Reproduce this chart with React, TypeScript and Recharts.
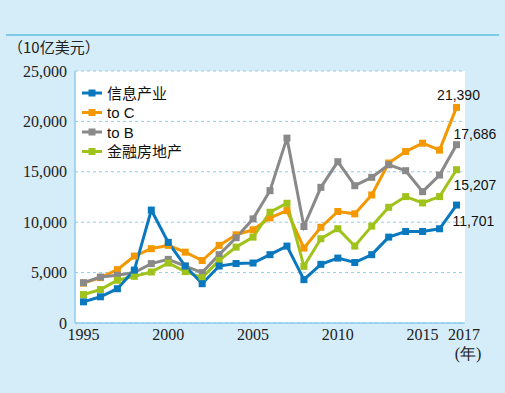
import React from "react";
import { LineChart, Line, XAxis, YAxis, CartesianGrid, Legend, LabelList } from "recharts";

const years = [1995, 1996, 1997, 1998, 1999, 2000, 2001, 2002, 2003, 2004, 2005, 2006, 2007, 2008, 2009, 2010, 2011, 2012, 2013, 2014, 2015, 2016, 2017];
const infoIndustry = [2100, 2600, 3400, 5250, 11200, 8000, 5650, 3900, 5650, 5900, 5950, 6780, 7630, 4300, 5820, 6440, 6000, 6780, 8520, 9080, 9080, 9350, 11701];
const toC = [3950, 4500, 5290, 6640, 7370, 7700, 7030, 6200, 7700, 8750, 9250, 10430, 11150, 7430, 9500, 11060, 10830, 12700, 15870, 17010, 17840, 17150, 21390];
const toB = [4000, 4560, 4730, 5000, 5890, 6310, 5650, 5000, 6780, 8460, 10330, 13130, 18340, 9570, 13460, 16000, 13620, 14450, 15700, 15110, 13030, 14680, 17686];
const finance = [2820, 3320, 4240, 4630, 5060, 5950, 5100, 4500, 6210, 7530, 8520, 10990, 11880, 5620, 8360, 9350, 7630, 9610, 11480, 12540, 11910, 12540, 15207];

const yTicks = [0, 5000, 10000, 15000, 20000, 25000];
const xLabelTicks = [1995, 2000, 2005, 2010, 2015, 2017];
const boundaryTicks = [1994.5, 1995.5, 1996.5, 1997.5, 1998.5, 1999.5, 2000.5, 2001.5, 2002.5, 2003.5, 2004.5, 2005.5, 2006.5, 2007.5, 2008.5, 2009.5, 2010.5, 2011.5, 2012.5, 2013.5, 2014.5, 2015.5, 2016.5, 2017.5];
const majorBoundaries = [2000.5, 2005.5, 2010.5, 2015.5];

const unitLabel = "（10亿美元）";
const yearUnit = "(年)";

const series = [
  { key: "info", name: "信息产业", color: "#0a78be", values: infoIndustry, lab: { dx: -4, dy: 21, anchor: "start" } },
  { key: "toC", name: "to C", color: "#f39800", values: toC, lab: { dx: 2, dy: -7, anchor: "middle" } },
  { key: "toB", name: "to B", color: "#898989", values: toB, lab: { dx: -3, dy: -6, anchor: "start" } },
  { key: "fin", name: "金融房地产", color: "#9fc31b", values: finance, lab: { dx: -3, dy: 20, anchor: "start" } },
];
const drawOrder = ["toC", "toB", "fin", "info"];

const data = years.map((y, i) => {
  const row: any = { year: y };
  series.forEach((s) => (row[s.key] = s.values[i]));
  return row;
});

const AXIS_BLUE = "#8fcdec";
const SANS = "'Liberation Sans', Arial, 'Noto Sans CJK SC', sans-serif";
const SERIF = "'Liberation Serif', 'DejaVu Serif', serif";

const squareDot = (color: string) => (props: any) => {
  const { cx, cy, index } = props;
  if (cx == null || cy == null) return <g key={index} />;
  return <rect key={index} x={cx - 3.5} y={cy - 3.5} width={7} height={7} fill={color} />;
};

const YearTick = (props: any) => {
  const { x, y, payload } = props;
  const v = payload.value;
  const shift = v === 2017 ? 7.5 : 0;
  return (
    <g>
      <text x={x + shift} y={y + 17} textAnchor="middle" style={{ fontFamily: SERIF, fontSize: 16 }} fill="#222">
        {v}
      </text>
      {v === 2017 && (
        <text x={x + 11.5} y={y + 36} textAnchor="middle" style={{ fontFamily: SERIF, fontSize: 16 }} fill="#222">
          {yearUnit}
        </text>
      )}
    </g>
  );
};

const ValueTick = (props: any) => {
  const { x, y, payload } = props;
  return (
    <text x={x} y={y + 5.5} textAnchor="end" style={{ fontFamily: SERIF, fontSize: 16 }} fill="#222">
      {Number(payload.value).toLocaleString("en-US")}
    </text>
  );
};

const BoundaryTick = (props: any) => {
  const { x, y, payload } = props;
  const len = majorBoundaries.includes(payload.value) ? 10 : 5;
  return <line x1={x} x2={x} y1={y} y2={y - len} stroke={AXIS_BLUE} strokeWidth={1.2} />;
};

const LegendContent = () => (
  <svg width={130} height={80} style={{ display: "block" }}>
    {series.map((s, i) => {
      const cy = 10 + i * 19.5;
      return (
        <g key={s.key}>
          <line x1={2} x2={22} y1={cy} y2={cy} stroke={s.color} strokeWidth={3} />
          <rect x={8.5} y={cy - 3.5} width={7} height={7} fill={s.color} />
          <text x={27} y={cy + 5.5} style={{ fontFamily: SANS, fontSize: 15 }} fill="#111">
            {s.name}
          </text>
        </g>
      );
    })}
  </svg>
);

const endLabel = (s: any) => (props: any) => {
  const { x, y, index } = props;
  if (index !== years.length - 1) return null;
  return (
    <text x={x + s.lab.dx} y={y + s.lab.dy} textAnchor={s.lab.anchor} style={{ fontFamily: SANS, fontSize: 14 }} fill="#111">
      {s.values[index].toLocaleString("en-US")}
    </text>
  );
};

export default function App() {
  return (
    <div style={{ position: "absolute", left: 0, top: 0, width: 505, height: 393, background: "#d5ecf9", overflow: "hidden" }}>
      <div style={{ position: "absolute", left: 6, top: 34, width: 493, height: 2, background: "#7ccbe8" }} />
      <div style={{ position: "absolute", left: 8, top: 37, fontFamily: "'Noto Sans CJK SC', sans-serif", fontSize: 15, lineHeight: "20px", color: "#222" }}>
        {unitLabel}
      </div>
      <LineChart width={505} height={393} data={data} margin={{ top: 71, right: 40, bottom: 40, left: 0 }}>
        <CartesianGrid vertical={false} horizontal={true} stroke={AXIS_BLUE} strokeDasharray="3 3" fill="#ffffff" fillOpacity={1} />
        <XAxis
          xAxisId="marks"
          dataKey="year"
          type="number"
          domain={[1994.5, 2017.5]}
          ticks={boundaryTicks}
          interval={0}
          height={0}
          tickSize={0}
          tickMargin={0}
          tickLine={false}
          axisLine={false}
          tick={<BoundaryTick />}
        />
        <XAxis
          dataKey="year"
          type="number"
          domain={[1994.5, 2017.5]}
          ticks={xLabelTicks}
          interval={0}
          height={30}
          tickSize={0}
          tickMargin={0}
          tickLine={false}
          axisLine={{ stroke: AXIS_BLUE, strokeWidth: 1.5 }}
          tick={<YearTick />}
        />
        <YAxis
          domain={[0, 25000]}
          ticks={yTicks}
          interval={0}
          width={75}
          tickLine={false}
          axisLine={{ stroke: AXIS_BLUE, strokeWidth: 1.5 }}
          tick={<ValueTick />}
        />
        <Legend
          layout="horizontal"
          align="center"
          verticalAlign="middle"
          content={<LegendContent />}
          wrapperStyle={{ position: "absolute", left: 80, top: 83, width: 130, height: 80 }}
        />
        {drawOrder.map((k) => {
          const s: any = series.find((x) => x.key === k);
          return (
            <Line
              key={s.key}
              dataKey={s.key}
              name={s.name}
              stroke={s.color}
              strokeWidth={3}
              dot={squareDot(s.color)}
              activeDot={false}
              isAnimationActive={false}
            >
              <LabelList dataKey={s.key} content={endLabel(s)} />
            </Line>
          );
        })}
      </LineChart>
    </div>
  );
}
